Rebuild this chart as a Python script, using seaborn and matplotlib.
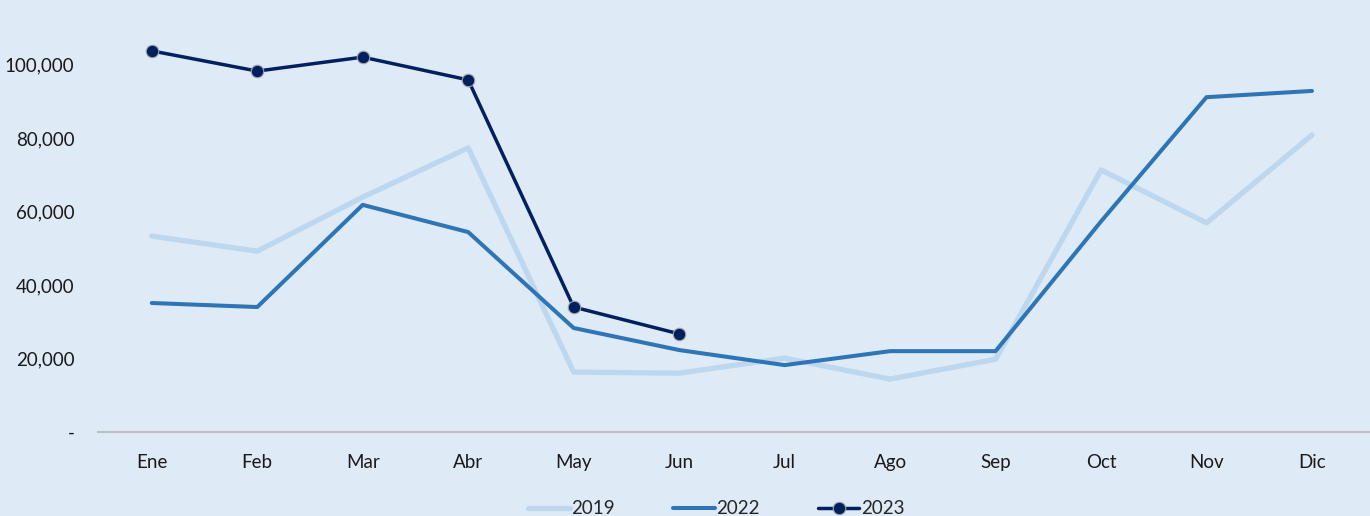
import pandas as pd
import seaborn as sns
import matplotlib.pyplot as plt
from matplotlib.ticker import FuncFormatter

# Data
months = ['Ene', 'Feb', 'Mar', 'Abr', 'May', 'Jun', 'Jul', 'Ago', 'Sep', 'Oct', 'Nov', 'Dic']
v2019 = [53300, 49200, 63900, 77300, 16300, 16000, 20100, 14400, 19800, 71300, 56900, 80800]
v2022 = [35100, 34000, 61800, 54400, 28300, 22300, 18200, 22000, 22000, 57300, 91100, 92800]
v2023 = [103700, 98200, 102000, 95800, 34000, 26700]

bg = '#DEEAF6'
sns.set_theme(style='white')
plt.rcParams['font.family'] = ['Lato', 'DejaVu Sans']

fig = plt.figure(figsize=(13.7, 5.16), dpi=100, facecolor=bg)
ax = fig.add_axes([0.0715, 0.1628, 0.9285, 0.8547])
ax.set_facecolor(bg)

df19 = pd.DataFrame({'mes': months, 'valor': v2019})
df22 = pd.DataFrame({'mes': months, 'valor': v2022})
df23 = pd.DataFrame({'mes': months[:len(v2023)], 'valor': v2023})

sns.lineplot(data=df19, x='mes', y='valor', ax=ax, color='#BDD7EE', lw=3.8,
             label='2019', sort=False)
sns.lineplot(data=df22, x='mes', y='valor', ax=ax, color='#2E75B6', lw=2.9,
             label='2022', sort=False)
sns.lineplot(data=df23, x='mes', y='valor', ax=ax, color='#002060', lw=2.5,
             marker='o', markersize=9, markeredgecolor='#A6A6A6',
             markeredgewidth=0.8, label='2023', sort=False)

ax.set_xlim(-0.51, 11.55)
ax.set_ylim(0, 120000)
ax.set_yticks([0, 20000, 40000, 60000, 80000, 100000])
ax.yaxis.set_major_formatter(FuncFormatter(lambda v, p: '-' if v == 0 else f'{int(v):,}'))
ax.set_xlabel('')
ax.set_ylabel('')
ax.tick_params(axis='both', length=0, labelsize=13.5, colors='#1a1a1a')
ax.tick_params(axis='y', pad=17)
ax.tick_params(axis='x', pad=16)

for s in ['top', 'right', 'left']:
    ax.spines[s].set_visible(False)
ax.spines['bottom'].set_color('#BFBFBF')
ax.spines['bottom'].set_linewidth(1.5)
ax.grid(False)

ax.get_legend().remove()
h, l = ax.get_legend_handles_labels()
fig.legend(h, l, loc='center', bbox_to_anchor=(0.523, 0.014), ncol=3,
           frameon=False, fontsize=13.5, handlelength=2.2, handletextpad=0.1,
           columnspacing=3.1)

fig.savefig('out.png', dpi=100, facecolor=bg)
